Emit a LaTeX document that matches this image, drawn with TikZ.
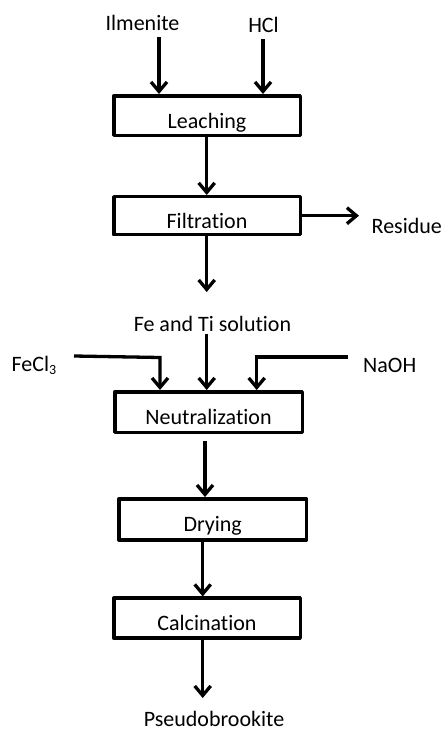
\documentclass[tikz,border=0pt]{standalone}
\usepackage{fontspec}
\setmainfont{Carlito}[Ligatures=NoCommon]
\usetikzlibrary{arrows.meta}
\begin{document}
\begin{tikzpicture}[x=1pt,y=-1pt,
  font=\fontsize{22}{26}\selectfont,
  procbox/.style={draw, line width=3.5pt, line join=round, minimum width=186.5pt, inner sep=0pt, text height=27pt, text depth=2pt},
  lbl/.style={inner sep=0pt},
  flow/.style={line width=3.3pt, -{Straight Barb[length=9.5pt,width=16pt]}}
]
\useasboundingbox (0,0) rectangle (447,731);
% process boxes
\node[procbox, minimum height=39.5pt] (lea) at (207,115.5) {Leaching};
\node[procbox, minimum height=38pt] (fil) at (207,215.7) {Filtration};
\node[procbox, minimum width=187.5pt, minimum height=40.5pt] (neu) at (208.5,412) {Neutralization};
\node[procbox, minimum width=187.5pt, minimum height=41pt] (dry) at (212.7,519.3) {Drying};
\node[procbox, minimum height=40pt] (cal) at (207,618.2) {Calcination};
% labels
\node[lbl, anchor=base] (ilm) at (142.5,30) {Ilmenite};
\node[lbl, anchor=base] (hcl) at (263.5,32.3) {HCl};
\node[lbl, anchor=base west] (res) at (371.5,233.3) {Residue};
\node[lbl, anchor=base] (sol) at (212.5,331) {Fe and Ti solution};
\node[lbl, anchor=base west] (fecl) at (11.5,371) {FeCl\raisebox{-3.5pt}{\fontsize{14}{14}\selectfont 3}};
\node[lbl, anchor=base west] (naoh) at (363,372) {NaOH};
\node[lbl, anchor=base] (pse) at (214,726) {Pseudobrookite};
% free ends and guide coordinates
\coordinate (ilmout) at (159,37);
\coordinate (hclout) at (263,39);
\coordinate (resin) at (359,215.7);
\coordinate (xa) at (206.7,0);
\coordinate (filout) at (206.7,292);
\coordinate (solout) at (206.7,334);
\coordinate (feclout) at (74,356);
\coordinate (feclbend) at (160,357.5);
\coordinate (naohout) at (348,357);
\coordinate (naohbend) at (256.7,357);
\coordinate (xb) at (205,0);
\coordinate (xc) at (202.7,0);
\coordinate (psein) at (202.7,698);
% connectors
\draw[flow] (ilmout) -- (ilmout |- lea.north);
\draw[flow] (hclout) -- (hclout |- lea.north);
\draw[flow] (xa |- lea.south) -- (xa |- fil.north);
\draw[flow] (fil.east) -- (resin);
\draw[flow] (xa |- fil.south) -- (filout);
\draw[flow] (solout) -- (solout |- neu.north);
\draw[flow, line join=miter] (feclout) -- (feclbend) -- (feclbend |- neu.north);
\draw[flow, line join=miter] (naohout) -- (naohbend) -- (naohbend |- neu.north);
\draw[flow, shorten <=7pt] (xb |- neu.south) -- (xb |- dry.north);
\draw[flow] (xc |- dry.south) -- (xc |- cal.north);
\draw[flow] (xc |- cal.south) -- (psein);
\end{tikzpicture}
\end{document}
